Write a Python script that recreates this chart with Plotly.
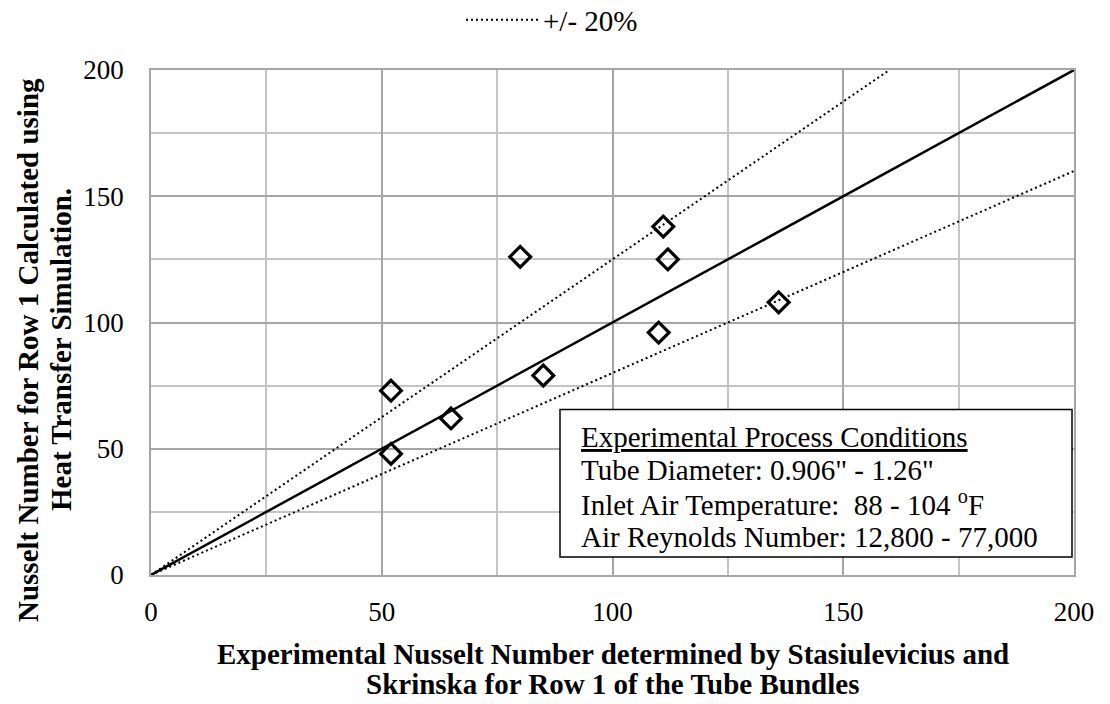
import plotly.graph_objects as go

# Measured points: experimental Nusselt number vs simulated Nusselt number (row 1)
exp_nu = [52, 52, 65, 80, 85, 110, 111, 112, 136]
sim_nu = [73, 48, 62, 126, 79, 96, 138, 125, 108]

# Reference lines: parity and the +/- 20% band
parity_x = [0, 200]
parity_y = [0, 200]
upper_x = [0, 160]
upper_y = [0, 200]
lower_x = [0, 200]
lower_y = [0, 160]

tick_vals = [0, 50, 100, 150, 200]
tick_text = ["0", "50", "100", "150", "200"]

band_name = "+/- 20%"
x_title_lines = ["Experimental Nusselt Number determined by Stasiulevicius and",
                 "Skrinska for Row 1 of the Tube Bundles"]
y_title_lines = ["Nusselt Number for Row 1 Calculated using",
                 "Heat Transfer Simulation."]
conditions_lines = ["<u>Experimental Process Conditions</u>",
                    'Tube Diameter: 0.906" - 1.26"',
                    "Inlet Air Temperature:\u00a0 88 - 104 <sup>o</sup>F",
                    "Air Reynolds Number: 12,800 - 77,000"]

FONT = "Liberation Serif"
W, H = 1110, 704
L, R, T, B = 151, 36, 70, 129
PW, PH = W - L - R, H - T - B


def px_x(p):
    return (p - L) / PW


def px_y(p):
    return (H - B - p) / PH


fig = go.Figure()

# +/- 20% band (two dotted lines sharing one legend entry)
fig.add_trace(go.Scatter(
    x=upper_x + [None] + lower_x, y=upper_y + [None] + lower_y,
    mode="lines", name=band_name,
    line=dict(color="black", width=2, dash="2px,3px"),
    connectgaps=False, hoverinfo="skip", showlegend=True))

# Parity line
fig.add_trace(go.Scatter(
    x=parity_x, y=parity_y, mode="lines",
    line=dict(color="black", width=2.5), showlegend=False, hoverinfo="skip"))

# Data points
fig.add_trace(go.Scatter(
    x=exp_nu, y=sim_nu, mode="markers", showlegend=False,
    marker=dict(symbol="diamond-open", size=16, color="black",
                line=dict(color="black", width=3.2))))

axis_common = dict(
    range=[0, 200], tickmode="array", tickvals=tick_vals, ticktext=tick_text,
    showgrid=True, gridcolor="#a6a6a6", gridwidth=1.5,
    minor=dict(tick0=0, dtick=25, showgrid=True, gridcolor="#c4c4c4", gridwidth=1.5),
    showline=True, linecolor="#a6a6a6", linewidth=1.5, mirror=True,
    zeroline=False, ticks="", fixedrange=True, automargin=False,
    tickfont=dict(family=FONT, size=27, color="black"),
)

fig.update_xaxes(**axis_common, ticklabelstandoff=12)
fig.update_yaxes(**axis_common, ticklabelstandoff=20)

annotations = []
# Axis titles
for text, yc in zip(x_title_lines, [654, 684]):
    annotations.append(dict(
        text="<b>%s</b>" % text, xref="paper", yref="paper",
        x=px_x(612.5), y=px_y(yc), xanchor="center", yanchor="middle",
        showarrow=False, font=dict(family=FONT, size=29, color="black")))
for text, xc in zip(y_title_lines, [28, 61]):
    annotations.append(dict(
        text="<b>%s</b>" % text, xref="paper", yref="paper",
        x=px_x(xc), y=px_y(350), xanchor="center", yanchor="middle",
        textangle=-90, showarrow=False,
        font=dict(family=FONT, size=29, color="black")))
# Process conditions box text
for text, yc in zip(conditions_lines, [437, 470, 503, 537]):
    annotations.append(dict(
        text=text, xref="paper", yref="paper",
        x=px_x(579), y=px_y(yc), xanchor="left", yanchor="middle",
        showarrow=False, font=dict(family=FONT, size=29, color="black")))

fig.update_layout(
    width=W, height=H, autosize=False,
    margin=dict(l=L, r=R, t=T, b=B, pad=0, autoexpand=False),
    paper_bgcolor="white", plot_bgcolor="white",
    font=dict(family=FONT, size=27, color="black"),
    showlegend=True,
    legend=dict(orientation="h", x=461 / W, y=1 - 20 / H, xref="container",
                yref="container", xanchor="left", yanchor="middle",
                itemwidth=72, bgcolor="rgba(0,0,0,0)",
                font=dict(family=FONT, size=29, color="black")),
    shapes=[dict(type="rect", xref="paper", yref="paper",
                 x0=px_x(560), x1=px_x(1072), y0=px_y(557), y1=px_y(409.5),
                 fillcolor="white", line=dict(color="black", width=1.5),
                 layer="above")],
    annotations=annotations,
)

fig.write_html("out.html")
